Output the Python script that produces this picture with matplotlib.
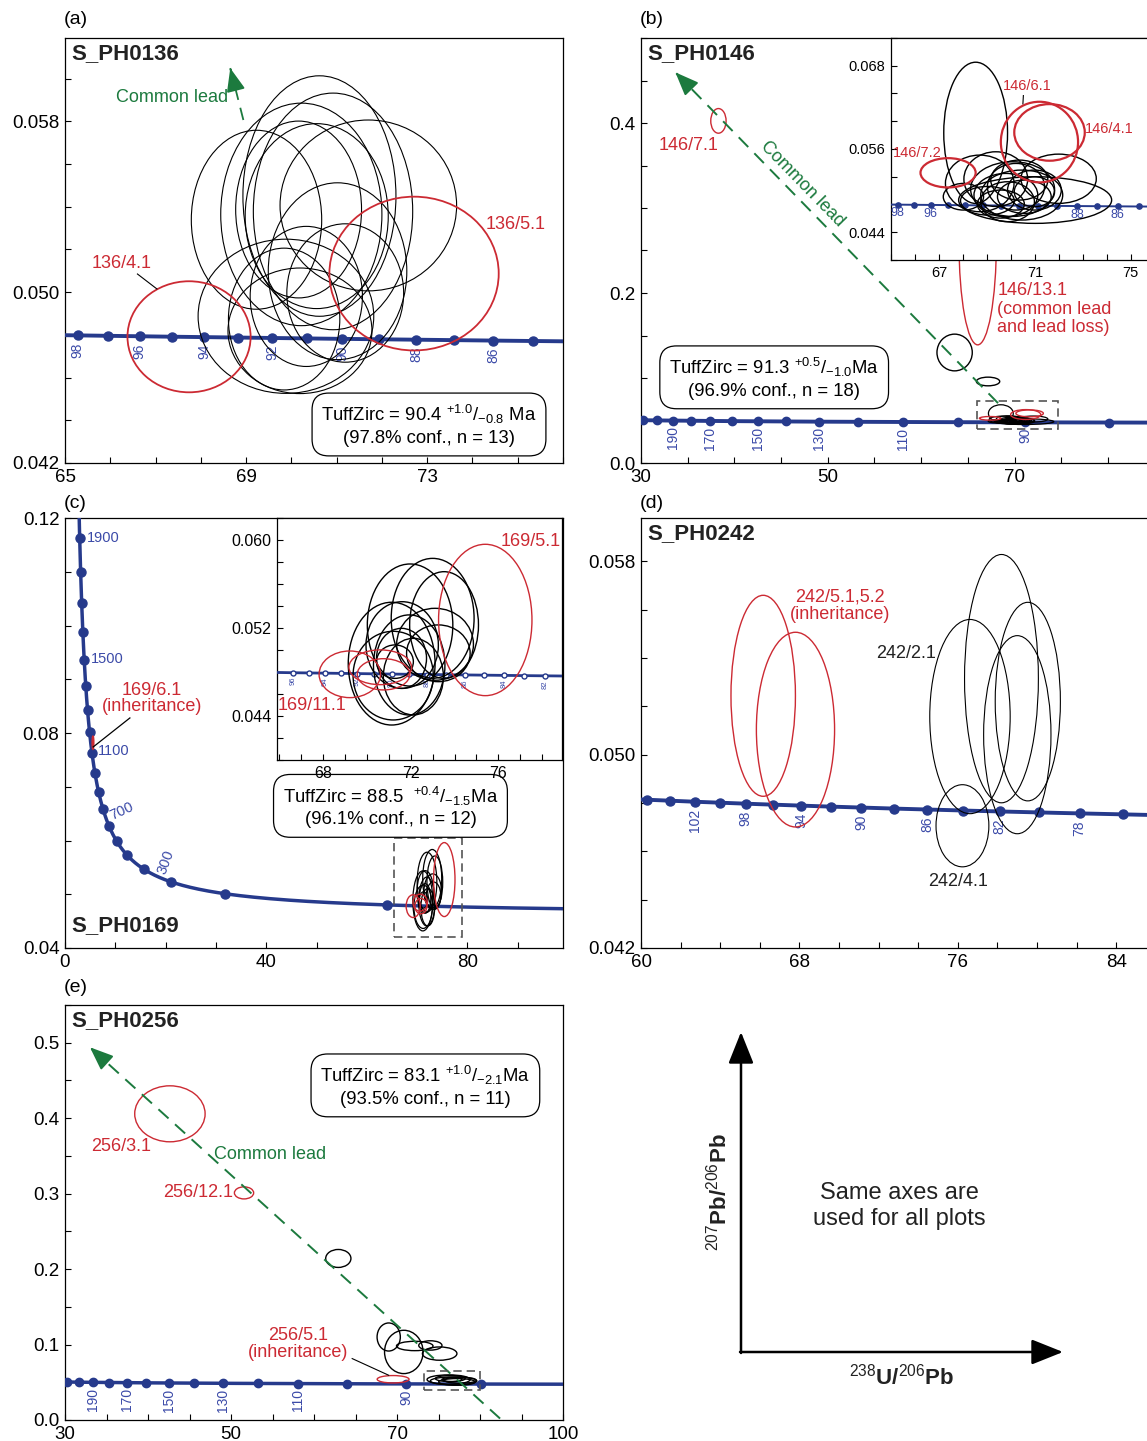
import numpy as np
import matplotlib
matplotlib.use('Agg')
import matplotlib.pyplot as plt
from matplotlib.patches import Ellipse, Rectangle
from matplotlib.ticker import FixedLocator, FixedFormatter, MultipleLocator

plt.rcParams['font.family'] = ['Liberation Sans', 'DejaVu Sans']
plt.rcParams['mathtext.fontset'] = 'custom'
plt.rcParams['mathtext.rm'] = 'Liberation Sans'
plt.rcParams['mathtext.it'] = 'Liberation Sans:italic'
plt.rcParams['mathtext.bf'] = 'Liberation Sans:bold'
plt.rcParams['axes.linewidth'] = 0.9

# ---------------- constants (Tera-Wasserburg concordia) ----------------
LAMBDA_238 = 1.55125e-10
LAMBDA_235 = 9.8485e-10
U238_U235 = 137.88

NAVY = '#263a8c'
AGEBLUE = '#3b4aa8'
RED = '#cc2a33'
GREEN = '#1c7a3e'

# ---------------- data ----------------
# (a) S_PH0136
a_marker_ages = [85, 86, 87, 88, 89, 90, 91, 92, 93, 94, 95, 96, 97, 98]
a_label_ages = [98, 96, 94, 92, 90, 88, 86]
a_black = [(69.23, 0.05339, 1.44, 0.00419), (70.62, 0.05450, 1.69, 0.00563),
           (70.92, 0.05378, 1.76, 0.00554), (70.22, 0.05364, 1.78, 0.00521),
           (70.16, 0.05387, 1.39, 0.00414), (70.56, 0.05356, 1.58, 0.00433),
           (71.70, 0.05406, 1.95, 0.00400), (71.02, 0.05098, 1.53, 0.00414),
           (71.19, 0.04996, 1.29, 0.00324), (69.88, 0.04887, 1.94, 0.00361),
           (69.84, 0.04874, 1.23, 0.00332), (70.33, 0.04980, 1.24, 0.00328),
           (70.19, 0.04819, 1.59, 0.00294)]
a_red = [(67.74, 0.04791, 1.36, 0.0026), (72.71, 0.05087, 1.87, 0.0036)]
a_xticks = [65, 69, 73]
a_yticks = [0.042, 0.050, 0.058]
a_yticklabels = ['0.042', '0.050', '0.058']

# (b) S_PH0146
b_marker_ages = [80, 90, 100, 110, 120, 130, 140, 150, 160, 170, 180, 190, 200, 210]
b_label_ages = [190, 170, 150, 130, 110, 90]
b_main_black = [(63.58, 0.130, 1.89, 0.0216), (67.16, 0.0959, 1.25, 0.0051)]
b_main_red = [(38.29, 0.4025, 0.82, 0.0145), (66.05, 0.259, 2.0, 0.12)]
b_inset_black = [(68.53, 0.05833, 1.33, 0.01018),
                 (68.70, 0.05104, 1.43, 0.00408), (71.01, 0.04864, 3.19, 0.00336),
                 (71.99, 0.05171, 1.57, 0.00355), (69.37, 0.05166, 1.33, 0.00394),
                 (70.07, 0.05022, 1.75, 0.00394), (70.45, 0.04936, 1.71, 0.00360),
                 (70.21, 0.05056, 1.19, 0.00336), (69.79, 0.04936, 1.33, 0.00312),
                 (70.56, 0.04912, 1.12, 0.00240), (69.02, 0.04854, 1.12, 0.00206),
                 (70.98, 0.05008, 1.12, 0.00288), (69.86, 0.04840, 1.12, 0.00288),
                 (70.35, 0.05152, 1.19, 0.00288), (68.02, 0.04912, 0.84, 0.00192),
                 (70.98, 0.04984, 0.84, 0.00216), (69.58, 0.04806, 0.98, 0.00202)]
b_inset_red = [(71.19, 0.05700, 1.61, 0.00581), (71.61, 0.05839, 1.47, 0.00408),
               (67.38, 0.05257, 1.15, 0.00211)]
b_inset_marker_ages = [85, 86, 87, 88, 89, 90, 91, 92, 93, 94, 95, 96, 97, 98]
b_inset_label_ages = [98, 96, 88, 86]
b_xticks = [30, 50, 70]
b_yticks = [0.0, 0.2, 0.4]
b_yticklabels = ['0.0', '0.2', '0.4']

# (c) S_PH0169
c_marker_ages = [100, 200, 300, 400, 500, 600, 700, 800, 900, 1000,
                 1100, 1200, 1300, 1400, 1500, 1600, 1700, 1800, 1900]
c_inset_marker_ages = [82, 83, 84, 85, 86, 87, 88, 89, 90, 91, 92, 93, 94, 95, 96]
c_inset_label_ages = [96, 94, 92, 90, 88, 86, 84, 82]
c_black = [(71.97, 0.05227, 1.95, 0.00555), (73.00, 0.05288, 1.89, 0.00545),
           (73.52, 0.05227, 1.57, 0.00485), (71.13, 0.04876, 1.98, 0.00558),
           (71.61, 0.05045, 1.65, 0.00394), (71.93, 0.04864, 1.63, 0.00455),
           (71.58, 0.04924, 1.14, 0.00273), (73.11, 0.05052, 1.75, 0.00327),
           (72.12, 0.04758, 1.37, 0.00348), (73.26, 0.04970, 1.45, 0.00258),
           (71.20, 0.04767, 1.83, 0.00403), (71.28, 0.04894, 0.84, 0.00152)]
c_red = [(75.40, 0.05273, 2.13, 0.00688), (69.22, 0.04779, 1.40, 0.00212),
         (70.61, 0.04843, 1.43, 0.00158), (70.76, 0.04779, 1.20, 0.00142)]
c_red_inherit = [(5.56, 0.0782, 0.15, 0.0012)]
c_xticks = [0, 40, 80]
c_yticks = [0.04, 0.08, 0.12]
c_yticklabels = ['0.04', '0.08', '0.12']

# (d) S_PH0242
d_marker_ages = [76, 78, 80, 82, 84, 86, 88, 90, 92, 94, 96, 98, 100, 102, 104, 106]
d_label_ages = [102, 98, 94, 90, 86, 82, 78]
d_black = [(76.23, 0.04706, 1.334, 0.0017), (76.61, 0.05158, 2.03, 0.00402),
           (78.20, 0.05315, 1.864, 0.00514), (79.53, 0.05220, 1.645, 0.00411),
           (79.00, 0.05083, 1.70, 0.0041)]
d_red = [(66.17, 0.05244, 1.627, 0.00416), (67.80, 0.05104, 1.974, 0.00403)]
d_xticks = [60, 68, 76, 84]
d_yticks = [0.042, 0.050, 0.058]
d_yticklabels = ['0.042', '0.050', '0.058']

# (e) S_PH0256
e_marker_ages = [80, 90, 100, 110, 120, 130, 140, 150, 160, 170, 180, 190, 200, 210]
e_label_ages = [190, 170, 150, 130, 110, 90]
e_black = [(62.93, 0.2141, 1.52, 0.0119), (69.00, 0.110, 1.40, 0.0186),
           (70.82, 0.0902, 2.32, 0.0287), (72.14, 0.0981, 2.20, 0.0062),
           (74.02, 0.0988, 1.40, 0.0062), (75.14, 0.0880, 2.08, 0.0088),
           (76.22, 0.0536, 2.60, 0.0062), (76.82, 0.0518, 2.80, 0.0053),
           (76.42, 0.0549, 1.80, 0.0040), (77.22, 0.0505, 2.20, 0.0044),
           (76.62, 0.0536, 1.20, 0.0027), (77.62, 0.0527, 1.92, 0.0040)]
e_red = [(42.64, 0.4058, 4.24, 0.0371), (51.57, 0.301, 1.16, 0.008),
         (69.53, 0.054, 1.92, 0.0049)]
e_xticks = [30, 50, 70, 90]
e_xticklabels = ['30', '50', '70', '100']
e_yticks = [0.0, 0.1, 0.2, 0.3, 0.4, 0.5]
e_yticklabels = ['0.0', '0.1', '0.2', '0.3', '0.4', '0.5']

# ---------------- helpers ----------------
W, H = 1147, 1441
fig = plt.figure(figsize=(W / 100, H / 100), dpi=100)


def tw(ages_ma):
    t = np.asarray(ages_ma, float) * 1e6
    e8 = np.expm1(LAMBDA_238 * t)
    e5 = np.expm1(LAMBDA_235 * t)
    return 1.0 / e8, e5 / e8 / U238_U235


def add_axes_px(l, t, r, b):
    return fig.add_axes([l / W, 1 - b / H, (r - l) / W, (b - t) / H])


def style(ax, xlim, ylim, xt, xtl, yt, ytl, xminor, yminor, fs=13.5):
    ax.set_xlim(xlim)
    ax.set_ylim(ylim)
    ax.xaxis.set_major_locator(FixedLocator(xt))
    ax.xaxis.set_major_formatter(FixedFormatter(xtl))
    ax.yaxis.set_major_locator(FixedLocator(yt))
    ax.yaxis.set_major_formatter(FixedFormatter(ytl))
    ax.xaxis.set_minor_locator(MultipleLocator(xminor))
    ax.yaxis.set_minor_locator(MultipleLocator(yminor))
    ax.tick_params(which='both', direction='in', length=4, width=0.8,
                   top=False, right=False, labelsize=fs, pad=4)


def concordia(ax, age_lo, age_hi, marker_ages, lw, ms, mfc=NAVY):
    ages = np.linspace(age_lo, age_hi, 800)
    x, y = tw(ages)
    ax.plot(x, y, color=NAVY, lw=lw, zorder=3, solid_capstyle='butt')
    mx, my = tw(marker_ages)
    ax.plot(mx, my, 'o', ms=ms, mfc=mfc, mec=NAVY, mew=1.0, zorder=4)


def age_labels(ax, ages, fs=10, off=-5, rot=90):
    for a in ages:
        x, y = tw([a])
        ax.annotate(str(a), (x[0], y[0]), xytext=(0, off), textcoords='offset points',
                    rotation=rot, ha='center', va='top', color=AGEBLUE, fontsize=fs,
                    zorder=4, annotation_clip=True)


def ellipses(ax, data, color, lw, z=5):
    for cx, cy, sx, sy in data:
        ax.add_patch(Ellipse((cx, cy), 2 * sx, 2 * sy, fill=False, ec=color,
                             lw=lw, zorder=z))


def common_lead(ax, start, tip, lw=1.3):
    ax.plot([start[0], tip[0]], [start[1], tip[1]], color=GREEN, lw=lw,
            dashes=(7, 4.5), zorder=6)
    back = (tip[0] + 0.03 * (start[0] - tip[0]), tip[1] + 0.03 * (start[1] - tip[1]))
    ax.annotate('', xy=tip, xytext=back,
                arrowprops=dict(arrowstyle='-|>,head_length=0.8,head_width=0.32',
                                color=GREEN, lw=lw, mutation_scale=18,
                                shrinkA=0, shrinkB=0), zorder=6)


def tuff_box(ax, x, y, text, fs=13.3):
    ax.text(x, y, text, ha='center', va='center', fontsize=fs, zorder=8,
            linespacing=1.25,
            bbox=dict(boxstyle='round,pad=0.5,rounding_size=0.9', fc='white',
                      ec='black', lw=0.9))


def dashed_box(ax, x0, y0, x1, y1):
    ax.add_patch(Rectangle((x0, y0), x1 - x0, y1 - y0, fill=False, ec='#555555',
                           lw=1.2, ls=(0, (5, 3)), zorder=7))


def title(ax, s, top=True):
    if top:
        ax.annotate(s, (0, 1), xycoords='axes fraction', xytext=(4.8, -11.5),
                    textcoords='offset points', ha='left', va='center',
                    fontsize=16, fontweight='bold', color='#222222', zorder=9)
    else:
        ax.annotate(s, (0, 0), xycoords='axes fraction', xytext=(4.8, 16.5),
                    textcoords='offset points', ha='left', va='center',
                    fontsize=16, fontweight='bold', color='#222222', zorder=9)


def panel_label(x, y, s):
    fig.text(x / W, 1 - y / H, s, ha='left', va='center', fontsize=14)


# ---------------- (a) ----------------
axa = add_axes_px(65, 38, 563, 463)
style(axa, (65, 76), (0.042, 0.0619), a_xticks, [str(v) for v in a_xticks],
      a_yticks, a_yticklabels, 1, 0.002)
concordia(axa, 60, 110, a_marker_ages, 2.8, 6.5)
age_labels(axa, a_label_ages, fs=10, off=-5)
ellipses(axa, a_black, 'black', 0.8)
ellipses(axa, a_red, RED, 1.3)
common_lead(axa, (68.94, 0.05806), (68.65, 0.06049))
axa.text(68.60, 0.05913, 'Common lead', color=GREEN, fontsize=13, ha='right', va='center')
axa.text(66.24, 0.05134, '136/4.1', color=RED, fontsize=13, ha='center', va='center')
axa.plot([66.60, 67.03], [0.05085, 0.05015], color='black', lw=0.8, zorder=6)
axa.text(74.28, 0.05317, '136/5.1', color=RED, fontsize=13, ha='left', va='center')
tuff_box(axa, 73.04, 0.04378,
         'TuffZirc = 90.4 $^{+1.0}$/$_{-0.8}$ Ma\n(97.8% conf., n = 13)')
title(axa, 'S_PH0136')
panel_label(64, 20, '(a)')

# ---------------- (b) ----------------
axb = add_axes_px(641, 38, 1150, 463)
style(axb, (30, 84.5), (0.0, 0.5), b_xticks, [str(v) for v in b_xticks],
      b_yticks, b_yticklabels, 5, 0.05)
concordia(axb, 70, 260, b_marker_ages, 2.8, 6)
age_labels(axb, b_label_ages, fs=10, off=-4)
ellipses(axb, b_main_black, 'black', 1.0)
ellipses(axb, b_main_red, RED, 1.0)
ellipses(axb, b_inset_black, 'black', 0.9)
ellipses(axb, b_inset_red, RED, 1.0)
dashed_box(axb, 66.0, 0.040, 74.7, 0.073)
common_lead(axb, (68.23, 0.0704), (33.68, 0.4596), lw=1.4)
axb.text(47.3, 0.3285, 'Common lead', color=GREEN, fontsize=13, ha='center',
         va='center', rotation=-45.7, rotation_mode='anchor')
axb.text(35.14, 0.3738, '146/7.1', color=RED, fontsize=13, ha='center', va='center')
axb.text(68.16, 0.2125, '146/13.1\n(common lead\nand lead loss)', color=RED,
         fontsize=13, ha='left', va='top', linespacing=1.1)
tuff_box(axb, 44.26, 0.1002,
         'TuffZirc = 91.3 $^{+0.5}$/$_{-1.0}$Ma\n(96.9% conf., n = 18)')
title(axb, 'S_PH0146')
panel_label(640, 20, '(b)')

# inset (b)
axbi = add_axes_px(891, 38, 1150, 260)
style(axbi, (65, 75.8), (0.040, 0.072), [67, 71, 75], ['67', '71', '75'],
      [0.044, 0.056, 0.068], ['0.044', '0.056', '0.068'], 1, 0.004, fs=10.5)
concordia(axbi, 70, 110, b_inset_marker_ages, 1.4, 3.8)
age_labels(axbi, b_inset_label_ages, fs=9, off=-2, rot=0)
ellipses(axbi, b_inset_black, 'black', 1.0)
ellipses(axbi, b_inset_red, RED, 1.6)
axbi.text(69.67, 0.06508, '146/6.1', color=RED, fontsize=10.5, ha='left', va='center')
axbi.plot([70.52, 70.50], [0.0637, 0.0625], color='black', lw=0.8)
axbi.text(73.09, 0.05888, '146/4.1', color=RED, fontsize=10.5, ha='left', va='center')
axbi.text(65.08, 0.05542, '146/7.2', color=RED, fontsize=10.5, ha='left', va='center')

# ---------------- (c) ----------------
axc = add_axes_px(65, 518, 563, 948)
style(axc, (0, 99), (0.04, 0.12), c_xticks, [str(v) for v in c_xticks],
      c_yticks, c_yticklabels, 10, 0.01)
concordia(axc, 40, 2150, c_marker_ages, 2.5, 6.5)
for age, dx, dy, rot, ha, va in [(1900, 5, 0, 0, 'left', 'center'),
                                 (1500, 5, 1, 0, 'left', 'center'),
                                 (1100, 4, 2, 0, 'left', 'center'),
                                 (700, 3, 2, 25, 'left', 'bottom'),
                                 (300, -2, 4, 70, 'left', 'bottom')]:
    x, y = tw([age])
    axc.annotate(str(age), (x[0], y[0]), xytext=(dx, dy), textcoords='offset points',
                 rotation=rot, ha=ha, va=va, color=AGEBLUE, fontsize=10.5,
                 rotation_mode='anchor', zorder=5)
ellipses(axc, c_black, 'black', 0.9)
ellipses(axc, c_red, RED, 1.0)
ellipses(axc, c_red_inherit, RED, 1.2)
dashed_box(axc, 65.5, 0.042, 79.0, 0.0604)
axc.text(17.3, 0.0864, '169/6.1\n(inheritance)', color=RED, fontsize=13,
         ha='center', va='center', linespacing=0.95)
axc.plot([12.9, 5.6], [0.0828, 0.0774], color='black', lw=0.9, zorder=6)
tuff_box(axc, 64.7, 0.06635,
         'TuffZirc = 88.5  $^{+0.4}$/$_{-1.5}$Ma\n(96.1% conf., n = 12)')
title(axc, 'S_PH0169', top=False)
panel_label(64, 503, '(c)')

# inset (c)
axci = add_axes_px(277, 518, 562, 760)
style(axci, (65.9, 78.9), (0.040, 0.062), [68, 72, 76], ['68', '72', '76'],
      [0.044, 0.052, 0.060], ['0.044', '0.052', '0.060'], 1, 0.002, fs=11.5)
concordia(axci, 70, 110, c_inset_marker_ages, 2.0, 3.6, mfc='white')
age_labels(axci, c_inset_label_ages, fs=5.5, off=-3)
ellipses(axci, c_black, 'black', 1.0)
ellipses(axci, c_red, RED, 1.0)
axci.text(76.08, 0.0599, '169/5.1', color=RED, fontsize=13, ha='left', va='center')
axci.text(65.93, 0.04491, '169/11.1', color=RED, fontsize=13, ha='left', va='center')

# ---------------- (d) ----------------
axd = add_axes_px(641, 518, 1150, 948)
style(axd, (60, 85.7), (0.042, 0.0598), d_xticks, [str(v) for v in d_xticks],
      d_yticks, d_yticklabels, 2, 0.002)
concordia(axd, 60, 120, d_marker_ages, 2.8, 6.5)
age_labels(axd, d_label_ages, fs=10, off=-5)
ellipses(axd, d_black, 'black', 0.8)
ellipses(axd, d_red, RED, 1.0)
axd.text(70.05, 0.05618, '242/5.1,5.2\n(inheritance)', color=RED, fontsize=13,
         ha='center', va='center', linespacing=1.05)
axd.text(73.38, 0.05418, '242/2.1', color='#222222', fontsize=13, ha='center', va='center')
axd.text(76.03, 0.04476, '242/4.1', color='#222222', fontsize=13, ha='center', va='center')
title(axd, 'S_PH0242')
panel_label(640, 503, '(d)')

# ---------------- (e) ----------------
axe = add_axes_px(65, 1005, 563, 1420)
style(axe, (30, 90), (0.0, 0.55), e_xticks, e_xticklabels,
      e_yticks, e_yticklabels, 5, 0.05)
concordia(axe, 70, 260, e_marker_ages, 2.5, 6)
age_labels(axe, e_label_ages, fs=10, off=-4)
ellipses(axe, e_black, 'black', 1.0)
ellipses(axe, e_red, RED, 1.0)
dashed_box(axe, 73.2, 0.0394, 80.0, 0.0646)
common_lead(axe, (82.42, 0.0019), (33.0, 0.494), lw=1.4)
axe.text(47.9, 0.3524, 'Common lead', color=GREEN, fontsize=13, ha='left', va='center')
axe.text(36.76, 0.3630, '256/3.1', color=RED, fontsize=13, ha='center', va='center')
axe.text(50.2, 0.301, '256/12.1', color=RED, fontsize=13, ha='right', va='center')
axe.text(58.1, 0.1013, '256/5.1\n(inheritance)', color=RED, fontsize=13,
         ha='center', va='center', linespacing=1.0)
axe.plot([64.6, 69.0], [0.0814, 0.0593], color='black', lw=0.8, zorder=6)
tuff_box(axe, 73.42, 0.4428,
         'TuffZirc = 83.1 $^{+1.0}$/$_{-2.1}$Ma\n(93.5% conf., n = 11)')
title(axe, 'S_PH0256')
panel_label(64, 988, '(e)')

# ---------------- axes key ----------------
axk = add_axes_px(640, 990, 1147, 1441)
axk.set_xlim(640, 1147)
axk.set_ylim(1441, 990)
axk.axis('off')
arrow_kw = dict(arrowstyle='-|>,head_length=0.75,head_width=0.3', color='black',
                lw=1.8, mutation_scale=26, shrinkA=0, shrinkB=0)
axk.annotate('', xy=(741, 1032), xytext=(741, 1353), arrowprops=arrow_kw)
axk.annotate('', xy=(1063, 1352), xytext=(740, 1352), arrowprops=arrow_kw)
axk.text(719, 1192, r'$^{207}$Pb/$^{206}$Pb', rotation=90,
         ha='center', va='center', fontsize=16, fontweight='bold', color='#222222')
axk.text(902, 1377, r'$^{238}$U/$^{206}$Pb',
         ha='center', va='center', fontsize=16, fontweight='bold', color='#222222')
axk.text(899, 1206, 'Same axes are\nused for all plots', ha='center', va='center',
         fontsize=17, color='#222222', linespacing=1.2)

fig.savefig('out.png', dpi=100)
